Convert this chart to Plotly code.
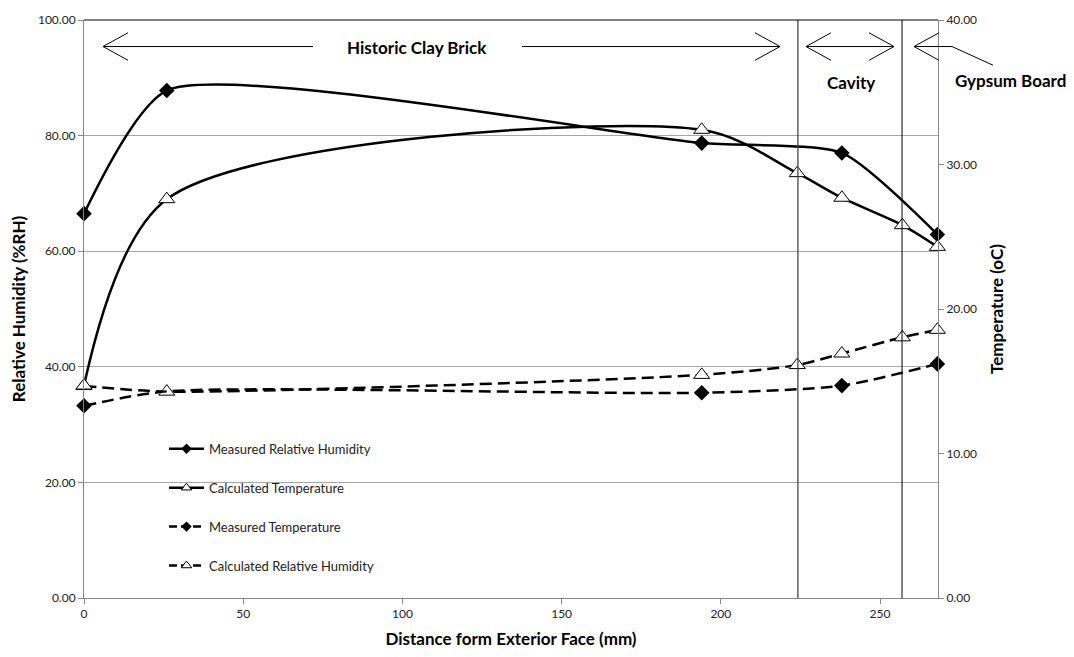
import plotly.graph_objects as go

# ---------------- data ----------------
mrh_x = [0, 26, 194, 238, 268]
mrh_y = [66.5, 87.8, 78.7, 77.0, 62.9]            # Measured Relative Humidity (%RH)

ct_x = [0, 26, 194, 224, 238, 257, 268]
ct_y = [14.7, 27.6, 32.4, 29.4, 27.7, 25.8, 24.3]  # Calculated Temperature (oC)

mt_x = [0, 26, 194, 238, 268]
mt_y = [13.3, 14.3, 14.2, 14.7, 16.2]              # Measured Temperature (oC)

crh_x = [0, 26, 194, 224, 238, 257, 268]
crh_y = [36.7, 35.7, 38.6, 40.3, 42.3, 45.1, 46.4] # Calculated Relative Humidity (%RH)

names = ["Measured Relative Humidity", "Calculated Temperature",
         "Measured Temperature", "Calculated Relative Humidity"]
boundaries = [224.2, 256.9]
x_ticks = [0, 50, 100, 150, 200, 250]
y_ticks = [0, 20, 40, 60, 80, 100]
y2_ticks = [0, 10, 20, 30, 40]

FONT = "Lato"
W, H = 1074, 657
L, R, T, B = 84, 938, 17, 605


def px(x):
    return (x - L) / (R - L)


def py(y):
    return (B - y) / (B - T)


diamond = dict(symbol="diamond", size=12, color="black", opacity=1)
tri = dict(symbol="triangle-up", size=14, color="white", opacity=1, line=dict(color="black", width=1))


def solid(s):
    return dict(color="black", width=2.5, shape="spline", smoothing=s)


def dashed(s):
    return dict(color="black", width=2.5, shape="spline", smoothing=s, dash="12px,6px")


fig = go.Figure()
fig.add_trace(go.Scatter(x=mrh_x, y=mrh_y, name=names[0], showlegend=False, cliponaxis=False,
                         mode="lines+markers", line=solid(0.6), marker=diamond))
fig.add_trace(go.Scatter(x=ct_x, y=ct_y, name=names[1], yaxis="y2", showlegend=False, cliponaxis=False,
                         mode="lines+markers", line=solid(0.85), marker=tri))
fig.add_trace(go.Scatter(x=mt_x, y=mt_y, name=names[2], yaxis="y2", showlegend=False, cliponaxis=False,
                         mode="lines+markers", line=dashed(0.7),
                         marker=dict(symbol="diamond", color="black", size=12,
                                     opacity=[1, 0, 1, 1, 1])))
fig.add_trace(go.Scatter(x=crh_x, y=crh_y, name=names[3], showlegend=False, cliponaxis=False,
                         mode="lines+markers", line=dashed(0.7), marker=tri))

# legend-only entries (smaller symbols, as in the reference legend)
leg_styles = [
    (dict(color="black", width=2.5), dict(symbol="diamond", size=8, color="black")),
    (dict(color="black", width=2.5), dict(symbol="triangle-up", size=9, color="white",
                                          line=dict(color="black", width=1))),
    (dict(color="black", width=2.5, dash="8px,4px"), dict(symbol="diamond", size=8, color="black")),
    (dict(color="black", width=2.5, dash="8px,4px"), dict(symbol="triangle-up", size=9, color="white",
                                                          line=dict(color="black", width=1))),
]
for i, (ln, mk) in enumerate(leg_styles):
    fig.add_trace(go.Scatter(x=[None], y=[None], name=names[i], legendgroup=f"g{i}",
                             mode="lines+markers", line=ln, marker=mk))

shapes = []
# white box behind legend (hides grid line)
shapes.append(dict(type="rect", xref="paper", yref="paper", x0=px(107), x1=px(453), y0=py(592), y1=py(425),
                   fillcolor="white", line=dict(width=0), layer="between"))
# boundary lines
for i, b in enumerate(boundaries):
    shapes.append(dict(type="line", xref="x", yref="paper", x0=b, x1=b, y0=0, y1=1,
                       line=dict(color="#444" if i == 0 else "black", width=1.3 if i == 0 else 1)))
# top border
shapes.append(dict(type="line", xref="paper", yref="paper", x0=0, x1=1, y0=1, y1=1,
                   line=dict(color="black", width=1)))


def seg(x0, y0, x1, y1):
    shapes.append(dict(type="line", xref="paper", yref="paper", x0=px(x0), y0=py(y0), x1=px(x1), y1=py(y1),
                       line=dict(color="black", width=1)))


def head(xh, yh, d):
    seg(xh, yh, xh + d * 25, yh - 14)
    seg(xh, yh, xh + d * 25, yh + 14)


ya = 44
seg(103, ya, 313, ya); head(103, ya, 1)
seg(522, ya, 780, ya); head(780, ya, -1)
seg(806, ya, 894, ya); head(806, ya, 1); head(894, ya, -1)
head(914, ya, 1)
seg(914, ya, 952, ya)
seg(952, ya, 993, 63)


def label(text, x, y):
    return dict(text=f"<b>{text}</b>", x=px(x), y=py(y), xref="paper", yref="paper",
                xanchor="center", yanchor="middle", showarrow=False,
                font=dict(family=FONT, size=17, color="black"))


annotations = [
    label("Historic Clay Brick", 417, 45),
    label("Cavity", 851, 81),
    label("Gypsum Board", 1010, 79),
]

axis_common = dict(showline=True, linecolor="#868686", linewidth=1, ticks="outside", ticklen=5,
                   tickcolor="#868686", tickfont=dict(family=FONT, size=12, color="#222"),
                   zeroline=False)

fig.update_layout(
    width=W, height=H,
    margin=dict(l=L, r=W - R, t=T, b=H - B),
    paper_bgcolor="white", plot_bgcolor="white",
    font=dict(family=FONT, color="black"),
    shapes=shapes, annotations=annotations,
    xaxis=dict(range=[0, 268.2], tickvals=x_ticks, showgrid=False, **axis_common,
               title=dict(text="<b>Distance form Exterior Face (mm)</b>", font=dict(family=FONT, size=17),
                          standoff=12)),
    yaxis=dict(range=[0, 100], tickvals=y_ticks, tickformat=".2f", showgrid=True, gridcolor="#a6a6a6",
               gridwidth=1, **axis_common,
               title=dict(text="<b>Relative Humidity (%RH)</b>", font=dict(family=FONT, size=17), standoff=8)),
    yaxis2=dict(range=[0, 40], tickvals=y2_ticks, tickformat=".2f", overlaying="y", side="right",
                showgrid=False, **axis_common,
                title=dict(text="<b>Temperature (oC)</b>", font=dict(family=FONT, size=17), standoff=14)),
    legend=dict(x=px(164), y=py(438), xanchor="left", yanchor="top", bgcolor="rgba(0,0,0,0)",
                font=dict(family=FONT, size=13, color="#222"), tracegroupgap=19, itemwidth=35,
                traceorder="grouped"),
    showlegend=True,
)

fig.write_html("out.html")
